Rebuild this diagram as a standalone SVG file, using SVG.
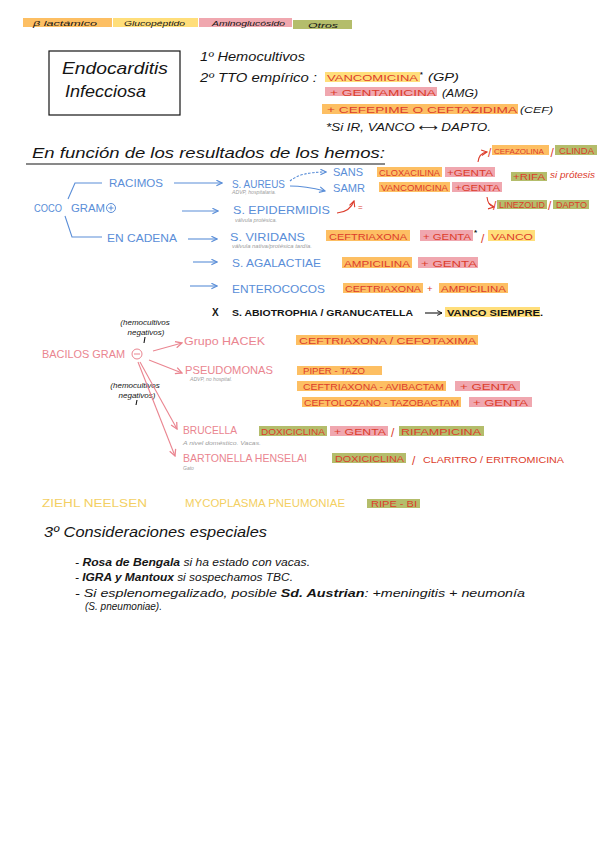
<svg xmlns="http://www.w3.org/2000/svg" width="600" height="848" viewBox="0 0 600 848">
<defs>
<style>
text{font-family:"Liberation Sans","DejaVu Sans",sans-serif}
.k{fill:#151515;font-style:italic}
.kc{fill:#151515;font-size:9px;font-weight:bold}
.r{fill:#DC3C2B;font-size:9.5px}
.sl{font-size:12px}
.b{fill:#5A8ED8;font-size:10.5px}
.p{fill:#EA8590;font-size:10.5px}
.g{fill:#9c9c9c;font-size:5px;font-style:italic}
.y{fill:#F3CF62;font-size:10px}
.hO{fill:#FDBF63}
.hY{fill:#FFDE7A}
.hP{fill:#F0A7AF}
.hG{fill:#B4BD6B}
.lb{fill:none;stroke:#5A8ED8;stroke-width:1.1}
.lr{fill:none;stroke:#DC3C2B;stroke-width:1.1}
.lp{fill:none;stroke:#EA8590;stroke-width:1.1}
.lk{fill:none;stroke:#151515;stroke-width:1.1}
</style>
<marker id="ab" viewBox="0 0 10 10" refX="9" refY="5" markerWidth="7" markerHeight="7" orient="auto" markerUnits="userSpaceOnUse"><path d="M1,1 L9,5 L1,9" fill="none" stroke="#5A8ED8" stroke-width="1.6"/></marker>
<marker id="ar" viewBox="0 0 10 10" refX="9" refY="5" markerWidth="7" markerHeight="7" orient="auto" markerUnits="userSpaceOnUse"><path d="M1,1 L9,5 L1,9" fill="none" stroke="#DC3C2B" stroke-width="1.6"/></marker>
<marker id="ap" viewBox="0 0 10 10" refX="9" refY="5" markerWidth="8" markerHeight="8" orient="auto" markerUnits="userSpaceOnUse"><path d="M1,1 L9,5 L1,9" fill="none" stroke="#EA8590" stroke-width="1.6"/></marker>
<marker id="ak" viewBox="0 0 10 10" refX="9" refY="5" markerWidth="6" markerHeight="6" orient="auto" markerUnits="userSpaceOnUse"><path d="M1,1 L9,5 L1,9" fill="none" stroke="#151515" stroke-width="1.6"/></marker>
</defs>
<rect width="600" height="848" fill="#ffffff"/>

<g id="legend">
<rect class="hO" x="23" y="18" width="89" height="9"/>
<rect class="hY" x="113" y="18" width="85" height="9"/>
<rect class="hP" x="199" y="18" width="93" height="9"/>
<rect class="hG" x="293" y="20" width="59" height="9"/>
<text class="k" x="33" y="26" font-size="8" textLength="64" lengthAdjust="spacingAndGlyphs">β lactámico</text>
<text class="k" x="124" y="26" font-size="8" textLength="61" lengthAdjust="spacingAndGlyphs">Glucopéptido</text>
<text class="k" x="212" y="26" font-size="8" textLength="73" lengthAdjust="spacingAndGlyphs">Aminoglucósido</text>
<text class="k" x="308" y="28" font-size="8" textLength="30" lengthAdjust="spacingAndGlyphs">Otros</text>
</g>

<g id="title">
<rect x="49" y="51" width="131" height="64" fill="none" stroke="#151515" stroke-width="1.2"/>
<text class="k" x="62" y="74" font-size="17" textLength="106" lengthAdjust="spacingAndGlyphs">Endocarditis</text>
<text class="k" x="65" y="97" font-size="17" textLength="81" lengthAdjust="spacingAndGlyphs">Infecciosa</text>
</g>

<g id="steps">
<text class="k" x="200" y="61" font-size="12" textLength="105" lengthAdjust="spacingAndGlyphs">1º Hemocultivos</text>
<text class="k" x="200" y="82" font-size="12" textLength="117" lengthAdjust="spacingAndGlyphs">2º TTO empírico :</text>
</g>

<g id="empirico">
<rect class="hY" x="325" y="72" width="95" height="10"/>
<text class="r" x="327" y="81" textLength="91" lengthAdjust="spacingAndGlyphs">VANCOMICINA</text>
<text class="kc" x="420" y="77" style="font-size:7px">*</text>
<text class="k" x="428" y="81" font-size="10" textLength="31" lengthAdjust="spacingAndGlyphs">(GP)</text>
<rect class="hP" x="325" y="87" width="112" height="9"/>
<text class="r" x="330" y="96" textLength="106" lengthAdjust="spacingAndGlyphs">+ GENTAMICINA</text>
<text class="k" x="442" y="97" font-size="10" textLength="36" lengthAdjust="spacingAndGlyphs">(AMG)</text>
<rect class="hO" x="322" y="104" width="196" height="10"/>
<text class="r" x="327" y="113" textLength="190" lengthAdjust="spacingAndGlyphs">+ CEFEPIME O CEFTAZIDIMA</text>
<text class="k" x="520" y="113" font-size="9.5" textLength="33" lengthAdjust="spacingAndGlyphs">(CEF)</text>
<text class="k" x="326" y="131" font-size="10" textLength="165" lengthAdjust="spacingAndGlyphs">*Si IR,  VANCO ⟷ DAPTO.</text>
</g>

<g id="heading">
<text class="k" x="32" y="158" font-size="15" textLength="353" lengthAdjust="spacingAndGlyphs">En función de los resultados de los hemos:</text>
<line x1="26" y1="164" x2="385" y2="164" stroke="#151515" stroke-width="1.2"/>
</g>

<g id="cocos">
<text class="b" x="34" y="212" textLength="28" lengthAdjust="spacingAndGlyphs">COCO</text>
<text class="b" x="71" y="212" textLength="34" lengthAdjust="spacingAndGlyphs">GRAM</text>
<circle cx="111" cy="208" r="4.5" fill="none" stroke="#5A8ED8" stroke-width="1"/>
<path d="M108.5,208 H113.5 M111,205.5 V210.5" stroke="#5A8ED8" stroke-width="1"/>
</g>
<g id="racimos"><text class="b" x="109" y="187" textLength="54" lengthAdjust="spacingAndGlyphs">RACIMOS</text></g>
<g id="cadena"><text class="b" x="107" y="242" textLength="70" lengthAdjust="spacingAndGlyphs">EN CADENA</text></g>
<g id="saureus">
<text class="b" x="232" y="188" textLength="53" lengthAdjust="spacingAndGlyphs">S. AUREUS</text>
<text class="g" x="232" y="194" textLength="44" lengthAdjust="spacingAndGlyphs">ADVP, hospitalaria.</text>
</g>
<g id="sans"><text class="b" x="333" y="176" textLength="30" lengthAdjust="spacingAndGlyphs">SANS</text></g>
<g id="samr"><text class="b" x="333" y="192" textLength="32" lengthAdjust="spacingAndGlyphs">SAMR</text></g>
<g id="sepidermidis">
<text class="b" x="233" y="214" textLength="97" lengthAdjust="spacingAndGlyphs">S. EPIDERMIDIS</text>
<text class="g" x="235" y="222" textLength="42" lengthAdjust="spacingAndGlyphs">válvula protésica.</text>
</g>
<g id="sviridans">
<text class="b" x="230" y="241" textLength="75" lengthAdjust="spacingAndGlyphs">S. VIRIDANS</text>
<text class="g" x="232" y="248" textLength="80" lengthAdjust="spacingAndGlyphs">válvula nativa/protésica tardía.</text>
</g>
<g id="sagalactiae"><text class="b" x="232" y="267" textLength="89" lengthAdjust="spacingAndGlyphs">S. AGALACTIAE</text></g>
<g id="enterococos"><text class="b" x="232" y="293" textLength="93" lengthAdjust="spacingAndGlyphs">ENTEROCOCOS</text></g>

<g id="tx-sans">
<rect class="hO" x="377" y="167" width="65" height="10"/>
<text class="r" x="379" y="176" textLength="61" lengthAdjust="spacingAndGlyphs">CLOXACILINA</text>
<rect class="hP" x="445" y="167" width="50" height="10"/>
<text class="r" x="447" y="176" textLength="46" lengthAdjust="spacingAndGlyphs">+GENTA</text>
</g>
<g id="tx-samr">
<rect class="hO" x="379" y="182" width="71" height="10"/>
<text class="r" x="381" y="191" textLength="67" lengthAdjust="spacingAndGlyphs">VANCOMICINA</text>
<rect class="hP" x="452" y="182" width="50" height="10"/>
<text class="r" x="455" y="191" textLength="45" lengthAdjust="spacingAndGlyphs">+GENTA</text>
</g>
<g id="tx-sans-alt">
<text class="r sl" x="488" y="157">/</text>
<rect class="hO" x="492" y="145" width="57" height="10"/>
<text class="r" x="494" y="153.5" style="font-size:8px">CEFAZOLINA</text>
<text class="r sl" x="550.5" y="157">/</text>
<rect class="hG" x="555" y="145" width="42" height="10"/>
<text class="r" x="559" y="154" textLength="35" lengthAdjust="spacingAndGlyphs">CLINDA</text>
</g>
<g id="tx-rifa">
<rect class="hG" x="511" y="172" width="36" height="9"/>
<text class="r" x="513" y="180" textLength="32" lengthAdjust="spacingAndGlyphs">+RIFA</text>
<text class="r" x="550" y="178" font-style="italic" textLength="45" lengthAdjust="spacingAndGlyphs">si prótesis</text>
</g>
<g id="tx-samr-alt">
<text class="r sl" x="493" y="210">/</text>
<rect class="hG" x="497" y="200" width="50" height="9"/>
<text class="r" x="499" y="208" textLength="46" lengthAdjust="spacingAndGlyphs">LINEZOLID</text>
<text class="r sl" x="548" y="210">/</text>
<rect class="hG" x="553" y="200" width="36" height="9"/>
<text class="r" x="556" y="208" textLength="31" lengthAdjust="spacingAndGlyphs">DAPTO</text>
</g>
<g id="tx-epi"><text class="r" x="358" y="210" style="font-size:8px">=</text></g>
<g id="tx-viridans">
<rect class="hO" x="326" y="230" width="84" height="11"/>
<text class="r" x="329" y="240" textLength="78" lengthAdjust="spacingAndGlyphs">CEFTRIAXONA</text>
<rect class="hP" x="420" y="230" width="53" height="11"/>
<text class="r" x="423" y="240" textLength="48" lengthAdjust="spacingAndGlyphs">+ GENTA</text>
<text class="kc" x="474" y="235" style="font-size:8px">*</text>
<text class="r sl" x="481" y="243">/</text>
<rect class="hY" x="488" y="230" width="47" height="11"/>
<text class="r" x="491" y="240" textLength="42" lengthAdjust="spacingAndGlyphs">VANCO</text>
</g>
<g id="tx-agalactiae">
<rect class="hO" x="342" y="257" width="70" height="11"/>
<text class="r" x="344" y="267" textLength="66" lengthAdjust="spacingAndGlyphs">AMPICILINA</text>
<rect class="hP" x="418" y="257" width="60" height="11"/>
<text class="r" x="421" y="267" textLength="56" lengthAdjust="spacingAndGlyphs">+  GENTA</text>
</g>
<g id="tx-enterococos">
<rect class="hO" x="343" y="283" width="80" height="10"/>
<text class="r" x="345" y="292" textLength="76" lengthAdjust="spacingAndGlyphs">CEFTRIAXONA</text>
<text class="r" x="427" y="292">+</text>
<rect class="hO" x="439" y="283" width="69" height="10"/>
<text class="r" x="441" y="292" textLength="65" lengthAdjust="spacingAndGlyphs">AMPICILINA</text>
</g>
<g id="abiotrophia">
<text class="kc" x="212" y="316" style="font-size:10px">X</text>
<text class="kc" x="232" y="316" textLength="181" lengthAdjust="spacingAndGlyphs">S. ABIOTROPHIA  /  GRANUCATELLA</text>
<rect class="hY" x="445" y="307" width="95" height="10"/>
<text class="kc" x="447" y="316" textLength="96" lengthAdjust="spacingAndGlyphs">VANCO  SIEMPRE.</text>
</g>

<g id="hemoneg1">
<text class="k" x="145" y="325" font-size="8" text-anchor="middle">(hemocultivos</text>
<text class="k" x="146" y="335" font-size="8" text-anchor="middle">negativos)</text>
</g>
<g id="bacilos">
<text class="p" x="42" y="358" textLength="83" lengthAdjust="spacingAndGlyphs">BACILOS GRAM</text>
<circle cx="137" cy="354" r="5" fill="none" stroke="#EA8590" stroke-width="1"/>
<line x1="134" y1="354" x2="140" y2="354" stroke="#EA8590" stroke-width="1"/>
</g>
<g id="hacek"><text class="p" x="184" y="345" textLength="81" lengthAdjust="spacingAndGlyphs">Grupo  HACEK</text></g>
<g id="pseudomonas">
<text class="p" x="185" y="374" textLength="88" lengthAdjust="spacingAndGlyphs">PSEUDOMONAS</text>
<text class="g" x="190" y="381" textLength="42" lengthAdjust="spacingAndGlyphs">ADVP, no hospital.</text>
</g>
<g id="hemoneg2">
<text class="k" x="135" y="388" font-size="8" text-anchor="middle">(hemocultivos</text>
<text class="k" x="137" y="398" font-size="8" text-anchor="middle">negativos)</text>
</g>
<g id="brucella">
<text class="p" x="183" y="434" textLength="54" lengthAdjust="spacingAndGlyphs">BRUCELLA</text>
<text class="g" x="183" y="445" textLength="78" lengthAdjust="spacingAndGlyphs">A nivel doméstico. Vacas.</text>
</g>
<g id="bartonella">
<text class="p" x="183" y="462" textLength="124" lengthAdjust="spacingAndGlyphs">BARTONELLA HENSELAI</text>
<text class="g" x="183" y="470">Gato</text>
</g>
<g id="tx-hacek">
<rect class="hO" x="296" y="335" width="182" height="10"/>
<text class="r" x="299" y="344" textLength="177" lengthAdjust="spacingAndGlyphs">CEFTRIAXONA  /  CEFOTAXIMA</text>
</g>
<g id="tx-pseudomonas">
<rect class="hO" x="297" y="366" width="85" height="9"/>
<text class="r" x="303" y="374" textLength="62" lengthAdjust="spacingAndGlyphs">PIPER - TAZO</text>
<rect class="hO" x="297" y="381" width="149" height="10"/>
<text class="r" x="303" y="390" textLength="141" lengthAdjust="spacingAndGlyphs">CEFTRIAXONA - AVIBACTAM</text>
<rect class="hP" x="455" y="381" width="65" height="10"/>
<text class="r" x="460" y="390" textLength="56" lengthAdjust="spacingAndGlyphs">+ GENTA</text>
<rect class="hO" x="302" y="397" width="159" height="10"/>
<text class="r" x="304" y="406" textLength="155" lengthAdjust="spacingAndGlyphs">CEFTOLOZANO - TAZOBACTAM</text>
<rect class="hP" x="469" y="397" width="63" height="10"/>
<text class="r" x="473" y="406" textLength="55" lengthAdjust="spacingAndGlyphs">+ GENTA</text>
</g>
<g id="tx-brucella">
<rect class="hG" x="259" y="426" width="68" height="10"/>
<text class="r" x="261" y="435" textLength="64" lengthAdjust="spacingAndGlyphs">DOXICICLINA</text>
<rect class="hP" x="330" y="426" width="58" height="10"/>
<text class="r" x="334" y="435" textLength="52" lengthAdjust="spacingAndGlyphs">+ GENTA</text>
<text class="r sl" x="391" y="437">/</text>
<rect class="hG" x="399" y="426" width="85" height="10"/>
<text class="r" x="401" y="435" textLength="80" lengthAdjust="spacingAndGlyphs">RIFAMPICINA</text>
</g>
<g id="tx-bartonella">
<rect class="hG" x="332" y="453" width="74" height="10"/>
<text class="r" x="335" y="462" textLength="69" lengthAdjust="spacingAndGlyphs">DOXICICLINA</text>
<text class="r sl" x="412" y="465">/</text>
<text class="r" x="423" y="463" textLength="141" lengthAdjust="spacingAndGlyphs">CLARITRO / ERITROMICINA</text>
</g>

<g id="ziehl"><text class="y" x="42" y="507" textLength="105" lengthAdjust="spacingAndGlyphs">ZIEHL  NEELSEN</text></g>
<g id="mycoplasma"><text class="y" x="185" y="507" textLength="160" lengthAdjust="spacingAndGlyphs">MYCOPLASMA  PNEUMONIAE</text></g>
<g id="ripe">
<rect class="hG" x="367" y="499" width="53" height="9"/>
<text class="r" x="371" y="507" textLength="46" lengthAdjust="spacingAndGlyphs">RIPE - BI</text>
</g>

<g id="consideraciones">
<text class="k" x="44" y="537" font-size="14" textLength="223" lengthAdjust="spacingAndGlyphs">3º Consideraciones  especiales</text>
<text class="k" x="75" y="566" font-size="11" textLength="235" lengthAdjust="spacingAndGlyphs">-  <tspan font-weight="bold">Rosa de Bengala</tspan>  si ha estado con vacas.</text>
<text class="k" x="75" y="581" font-size="11" textLength="218" lengthAdjust="spacingAndGlyphs">-  <tspan font-weight="bold">IGRA  y  Mantoux</tspan>  si sospechamos TBC.</text>
<text class="k" x="75" y="597" font-size="11" textLength="450" lengthAdjust="spacingAndGlyphs">-  Si esplenomegalizado, posible <tspan font-weight="bold">Sd. Austrian</tspan>: +meningitis + neumonía</text>
<text class="k" x="85" y="610" font-size="11" textLength="77" lengthAdjust="spacingAndGlyphs">(S. pneumoniae).</text>
</g>

<g id="connectors">
<path class="lb" d="M68,199 L75,183 H102"/>
<path class="lb" d="M65,216 L72,237 H102"/>
<line class="lb" x1="174" y1="183" x2="222" y2="183" marker-end="url(#ab)"/>
<line class="lb" x1="182" y1="211" x2="218" y2="211" marker-end="url(#ab)"/>
<line class="lb" x1="188" y1="239" x2="217" y2="239" marker-end="url(#ab)"/>
<line class="lb" x1="193" y1="262" x2="217" y2="262" marker-end="url(#ab)"/>
<line class="lb" x1="190" y1="286" x2="217" y2="286" marker-end="url(#ab)"/>
<path class="lb" d="M290,181 Q300,172 326,172" stroke-dasharray="2.5,1.5" marker-end="url(#ab)"/>
<path class="lb" d="M290,186 Q305,186 325,191" marker-end="url(#ab)"/>
<path class="lr" d="M337,213 Q350,212 354,201" marker-end="url(#ar)"/>
<path class="lr" d="M478,162 Q479,153 487,152" marker-end="url(#ar)"/>
<path class="lr" d="M487,197 Q488,206 494,207" marker-end="url(#ar)"/>
<line class="lk" x1="425" y1="313" x2="442" y2="313" marker-end="url(#ak)"/>
<line class="lp" x1="153" y1="351" x2="182" y2="343" marker-end="url(#ap)"/>
<line class="lp" x1="149" y1="360" x2="182" y2="373" marker-end="url(#ap)"/>
<line class="lp" x1="140" y1="362" x2="177" y2="429" marker-end="url(#ap)"/>
<line class="lp" x1="138" y1="362" x2="175" y2="456" marker-end="url(#ap)"/>
<path class="lk" d="M145,337 L144,343" stroke-width="0.8"/>
<path class="lk" d="M137,400 L136,405" stroke-width="0.8"/>
</g>
</svg>
